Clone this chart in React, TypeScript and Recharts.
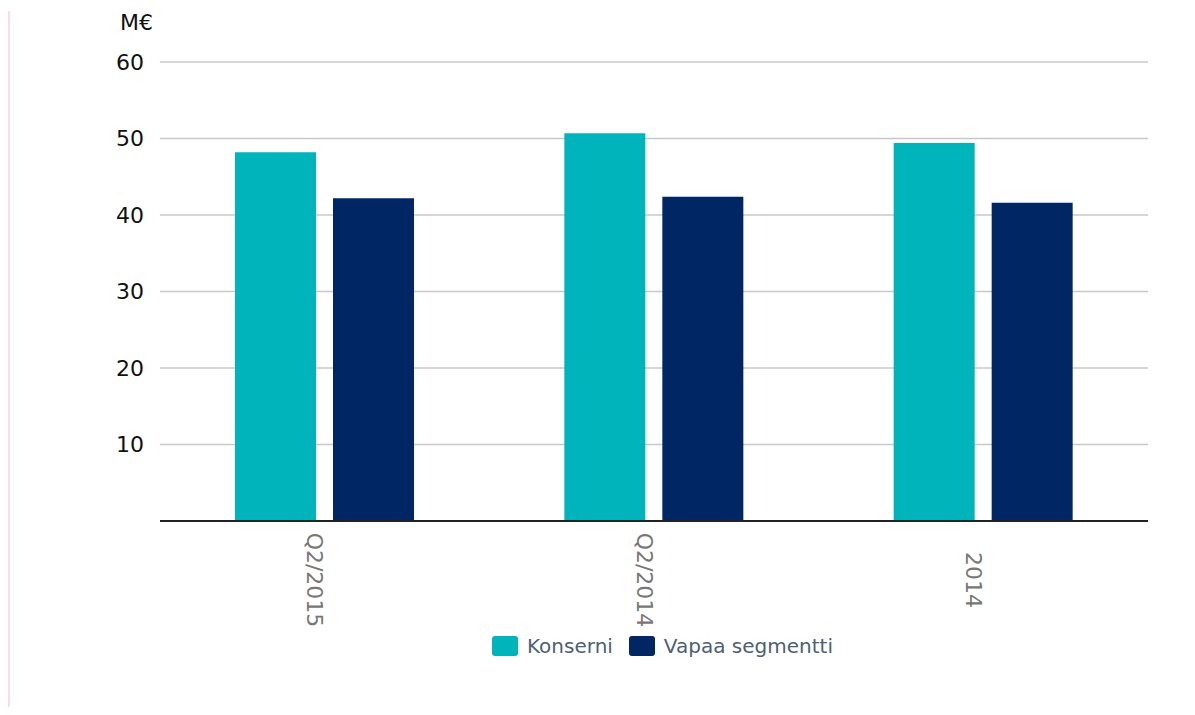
import React from "react";
import { BarChart, Bar, XAxis, YAxis, CartesianGrid, Legend } from "recharts";

const categories = ["Q2/2015", "Q2/2014", "2014"];
const konserni = [48.2, 50.7, 49.4];
const vapaaSegmentti = [42.2, 42.4, 41.6];
const yTicks = [0, 10, 20, 30, 40, 50, 60];

const series = [
  { key: "konserni", name: "Konserni", color: "#00b4bc" },
  { key: "vapaa", name: "Vapaa segmentti", color: "#002663" },
];

const data = categories.map((c, i) => ({
  name: c,
  konserni: konserni[i],
  vapaa: vapaaSegmentti[i],
}));

const FONT = "'DejaVu Sans', Verdana, sans-serif";

function YTick(props: any) {
  const { x, y, payload } = props;
  if (payload.value === 0) return null;
  return (
    <text x={x} y={y} textAnchor="end" dominantBaseline="central" fill="#111" fontSize={22} fontFamily={FONT}>
      {payload.value}
    </text>
  );
}

function XTick(props: any) {
  const { x, payload } = props;
  return (
    <text
      transform={`translate(${x - 10},572) rotate(90)`}
      textAnchor="middle"
      dominantBaseline="central"
      fill="#777"
      fontSize={22}
      fontFamily={FONT}
    >
      {payload.value}
    </text>
  );
}

function LegendContent() {
  return (
    <div style={{ display: "flex", alignItems: "center", fontFamily: FONT, fontSize: 20, color: "#4d6075" }}>
      {series.map((s, i) => (
        <div key={s.key} style={{ display: "flex", alignItems: "center", marginRight: i === 0 ? 16 : 0 }}>
          <span style={{ display: "inline-block", width: 26, height: 20, borderRadius: 3, background: s.color, marginRight: 9 }} />
          <span>{s.name}</span>
        </div>
      ))}
    </div>
  );
}

export default function App() {
  return (
    <div style={{ position: "relative", width: 1179, height: 699 }}>
      {/* thin pink rule on the left edge */}
      <div style={{ position: "absolute", left: 0, top: 3, width: 2, height: 700, background: "#fbdbe5" }} />
      <span style={{ position: "absolute", left: 112, top: 2, fontFamily: FONT, fontSize: 22, color: "#111" }}>M€</span>
      <BarChart
        width={1179}
        height={699}
        data={data}
        margin={{ top: 54, right: 39, left: 0, bottom: 0 }}
        barSize={81}
        barGap={17}
      >
        <CartesianGrid vertical={false} stroke="#c8c8c8" strokeWidth={1.5} />
        <XAxis
          dataKey="name"
          height={162}
          tickLine={false}
          axisLine={{ stroke: "#222", strokeWidth: 2 }}
          tick={<XTick />}
          interval={0}
        />
        <YAxis
          width={152}
          domain={[0, 60]}
          ticks={yTicks}
          axisLine={false}
          tickLine={false}
          tickMargin={10}
          tick={<YTick />}
        />
        <Legend content={<LegendContent />} wrapperStyle={{ top: 626, left: 484, width: "auto" }} />
        {series.map((s) => (
          <Bar key={s.key} dataKey={s.key} name={s.name} fill={s.color} isAnimationActive={false} />
        ))}
      </BarChart>
    </div>
  );
}
